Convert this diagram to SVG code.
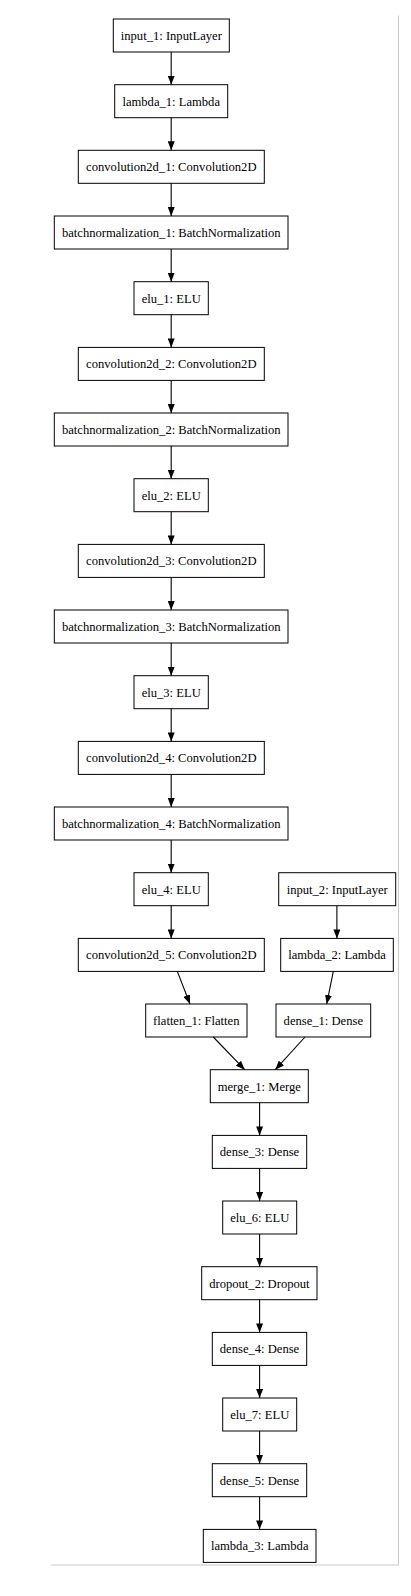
<svg xmlns="http://www.w3.org/2000/svg" width="411" height="1596" viewBox="0 0 411 1596">
<style>
.n rect{fill:#fff;stroke:#000;stroke-width:1}
.n text{font-family:"Liberation Serif","Times New Roman",serif;font-size:12.6px;fill:#000;text-anchor:middle}
.e line{stroke:#000;stroke-width:1.1;marker-end:url(#ah)}
.frame{stroke:#c8c8c8;stroke-width:1;fill:none}
</style>
<defs>
<marker id="ah" viewBox="0 0 9 7" markerUnits="userSpaceOnUse" markerWidth="9" markerHeight="7" refX="9" refY="3.5" orient="auto">
<path d="M0,0 L9,3.5 L0,7 z" fill="#000"/>
</marker>
</defs>
<rect width="411" height="1596" fill="#fff"/>
<path class="frame" d="M398.5,15.5 V1565 H51"/>
<g id="input_1" class="n"><rect x="113.3" y="19" width="116" height="33"/><text x="171.3" y="40">input_1: InputLayer</text></g>
<g id="lambda_1" class="n"><rect x="114.7" y="84.7" width="113" height="33"/><text x="171.2" y="105.7">lambda_1: Lambda</text></g>
<g id="convolution2d_1" class="n"><rect x="78.3" y="150.3" width="186" height="33"/><text x="171.3" y="171.3">convolution2d_1: Convolution2D</text></g>
<g id="batchnormalization_1" class="n"><rect x="54.3" y="216" width="233.7" height="33"/><text x="171.2" y="237">batchnormalization_1: BatchNormalization</text></g>
<g id="elu_1" class="n"><rect x="134" y="281.7" width="74.3" height="33"/><text x="171.2" y="302.7">elu_1: ELU</text></g>
<g id="convolution2d_2" class="n"><rect x="78.3" y="347.4" width="186" height="33"/><text x="171.3" y="368.4">convolution2d_2: Convolution2D</text></g>
<g id="batchnormalization_2" class="n"><rect x="54.3" y="413" width="233.7" height="33"/><text x="171.2" y="434">batchnormalization_2: BatchNormalization</text></g>
<g id="elu_2" class="n"><rect x="134" y="478.7" width="74.3" height="33"/><text x="171.2" y="499.7">elu_2: ELU</text></g>
<g id="convolution2d_3" class="n"><rect x="78.3" y="544.4" width="186" height="33"/><text x="171.3" y="565.4">convolution2d_3: Convolution2D</text></g>
<g id="batchnormalization_3" class="n"><rect x="54.3" y="610" width="233.7" height="33"/><text x="171.2" y="631">batchnormalization_3: BatchNormalization</text></g>
<g id="elu_3" class="n"><rect x="134" y="675.7" width="74.3" height="33"/><text x="171.2" y="696.7">elu_3: ELU</text></g>
<g id="convolution2d_4" class="n"><rect x="78.3" y="741.4" width="186" height="33"/><text x="171.3" y="762.4">convolution2d_4: Convolution2D</text></g>
<g id="batchnormalization_4" class="n"><rect x="54.3" y="807" width="233.7" height="33"/><text x="171.2" y="828">batchnormalization_4: BatchNormalization</text></g>
<g id="elu_4" class="n"><rect x="134" y="872.7" width="74.3" height="33"/><text x="171.2" y="893.7">elu_4: ELU</text></g>
<g id="input_2" class="n"><rect x="278.7" y="872.7" width="117" height="33"/><text x="337.2" y="893.7">input_2: InputLayer</text></g>
<g id="convolution2d_5" class="n"><rect x="78.3" y="938.4" width="186" height="33"/><text x="171.3" y="959.4">convolution2d_5: Convolution2D</text></g>
<g id="lambda_2" class="n"><rect x="280.7" y="938.4" width="112.6" height="33"/><text x="337" y="959.4">lambda_2: Lambda</text></g>
<g id="flatten_1" class="n"><rect x="145.7" y="1004" width="101.3" height="33"/><text x="196.3" y="1025">flatten_1: Flatten</text></g>
<g id="dense_1" class="n"><rect x="276" y="1004" width="94.7" height="33"/><text x="323.3" y="1025">dense_1: Dense</text></g>
<g id="merge_1" class="n"><rect x="210.3" y="1069.7" width="98" height="33"/><text x="259.3" y="1090.7">merge_1: Merge</text></g>
<g id="dense_3" class="n"><rect x="212.3" y="1135.4" width="94.4" height="33"/><text x="259.5" y="1156.4">dense_3: Dense</text></g>
<g id="elu_6" class="n"><rect x="222.7" y="1201" width="74" height="33"/><text x="259.7" y="1222">elu_6: ELU</text></g>
<g id="dropout_2" class="n"><rect x="201.7" y="1266.7" width="115.3" height="33"/><text x="259.4" y="1287.7">dropout_2: Dropout</text></g>
<g id="dense_4" class="n"><rect x="212.3" y="1332.4" width="94.4" height="33"/><text x="259.5" y="1353.4">dense_4: Dense</text></g>
<g id="elu_7" class="n"><rect x="222.7" y="1398" width="74" height="33"/><text x="259.7" y="1419">elu_7: ELU</text></g>
<g id="dense_5" class="n"><rect x="212.3" y="1463.7" width="94.4" height="33"/><text x="259.5" y="1484.7">dense_5: Dense</text></g>
<g id="lambda_3" class="n"><rect x="203.3" y="1529.4" width="112.7" height="33"/><text x="259.7" y="1550.4">lambda_3: Lambda</text></g>
<g id="connectors" class="e">
<line x1="171.2" y1="52" x2="171.2" y2="84.7"/>
<line x1="171.2" y1="117.7" x2="171.2" y2="150.3"/>
<line x1="171.2" y1="183.3" x2="171.2" y2="216"/>
<line x1="171.2" y1="249" x2="171.2" y2="281.7"/>
<line x1="171.2" y1="314.7" x2="171.2" y2="347.4"/>
<line x1="171.2" y1="380.4" x2="171.2" y2="413"/>
<line x1="171.2" y1="446" x2="171.2" y2="478.7"/>
<line x1="171.2" y1="511.7" x2="171.2" y2="544.4"/>
<line x1="171.2" y1="577.4" x2="171.2" y2="610"/>
<line x1="171.2" y1="643" x2="171.2" y2="675.7"/>
<line x1="171.2" y1="708.7" x2="171.2" y2="741.4"/>
<line x1="171.2" y1="774.4" x2="171.2" y2="807"/>
<line x1="171.2" y1="840" x2="171.2" y2="872.7"/>
<line x1="171.2" y1="905.7" x2="171.2" y2="938.4"/>
<line x1="336.9" y1="905.7" x2="336.9" y2="938.4"/>
<line x1="177.3" y1="971.4" x2="190" y2="1004"/>
<line x1="333.3" y1="971.4" x2="326.7" y2="1004"/>
<line x1="213.3" y1="1037" x2="244.7" y2="1069.7"/>
<line x1="305" y1="1037" x2="275.3" y2="1069.7"/>
<line x1="259.6" y1="1102.7" x2="259.6" y2="1135.4"/>
<line x1="259.6" y1="1168.4" x2="259.6" y2="1201"/>
<line x1="259.6" y1="1234" x2="259.6" y2="1266.7"/>
<line x1="259.6" y1="1299.7" x2="259.6" y2="1332.4"/>
<line x1="259.6" y1="1365.4" x2="259.6" y2="1398"/>
<line x1="259.6" y1="1431" x2="259.6" y2="1463.7"/>
<line x1="259.6" y1="1496.7" x2="259.6" y2="1529.4"/>
</g>
</svg>
